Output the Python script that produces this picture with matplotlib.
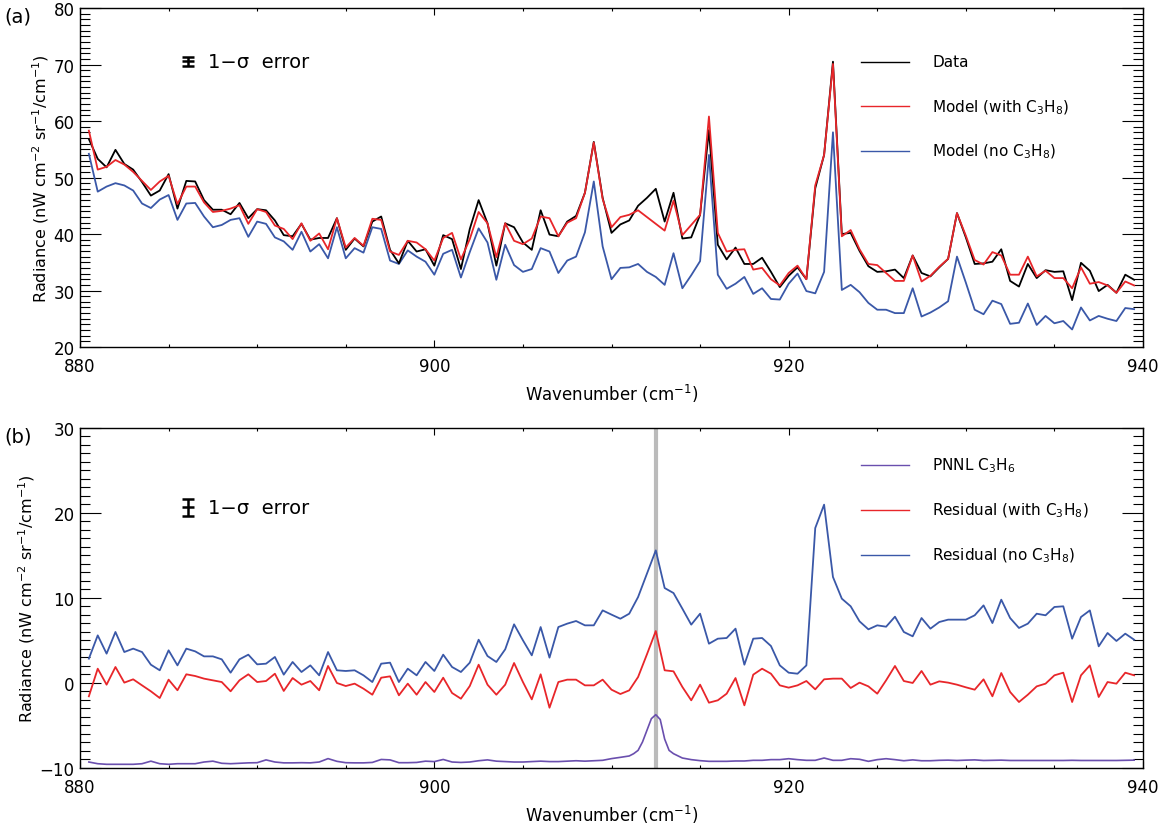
import numpy as np
import matplotlib
matplotlib.use('Agg')
import matplotlib.pyplot as plt
from matplotlib.ticker import MultipleLocator

plt.rcParams['font.family'] = ['DejaVu Sans']
plt.rcParams['mathtext.default'] = 'regular'

# wavenumber grid of the spectra (cm^-1)
wavenumber = np.arange(880.5, 940.0, 0.5)

# panel (a): radiances
data = [56.8, 53.3, 51.8, 54.9, 52.4, 51.4, 49.2, 46.8, 47.7, 50.6,
        44.5, 49.4, 49.3, 46.0, 44.3, 44.3, 43.5, 45.5, 42.8, 44.4,
        44.2, 42.4, 39.8, 39.6, 41.8, 39.0, 39.3, 39.3, 42.8, 37.2,
        39.2, 37.8, 42.2, 43.1, 37.2, 34.8, 38.8, 36.9, 37.3, 34.4,
        39.8, 39.1, 33.8, 40.9, 46.0, 41.9, 34.4, 41.9, 41.2, 38.5,
        37.2, 44.2, 39.9, 39.6, 42.2, 43.2, 47.3, 56.3, 46.4, 40.2,
        41.7, 42.4, 45.0, 46.4, 48.0, 42.2, 47.3, 39.2, 39.4, 43.4,
        58.4, 38.1, 35.5, 37.6, 34.7, 34.7, 35.8, 33.3, 30.6, 32.6,
        34.1, 32.0, 48.1, 54.0, 70.5, 40.0, 40.2, 37.0, 34.3, 33.3,
        33.4, 33.7, 32.2, 36.2, 33.1, 32.5, 34.1, 35.6, 43.7, 39.4,
        34.7, 34.8, 35.1, 37.3, 31.7, 30.7, 34.7, 32.2, 33.6, 33.3,
        33.4, 28.3, 34.9, 33.5, 29.9, 31.0, 29.6, 32.8, 31.9]

model_with = [58.3, 51.4, 51.9, 53.1, 52.3, 51.0, 49.4, 47.8, 49.3, 50.3,
              45.3, 48.4, 48.4, 45.6, 43.9, 44.1, 44.5, 45.1, 41.8, 44.4,
              43.9, 41.5, 40.9, 39.1, 41.9, 38.8, 40.1, 37.3, 42.8, 37.6,
              39.3, 37.9, 42.7, 42.5, 36.9, 36.3, 38.8, 38.5, 37.3, 35.3,
              39.3, 40.2, 35.5, 39.1, 43.9, 41.9, 35.9, 41.9, 38.8, 38.2,
              39.2, 43.1, 42.8, 39.6, 42.0, 42.8, 47.3, 56.2, 46.2, 41.2,
              43.0, 43.4, 44.2, 43.0, 41.8, 40.6, 45.9, 39.8, 41.6, 43.4,
              60.8, 40.2, 36.9, 37.2, 37.3, 33.7, 34.0, 32.0, 30.9, 33.1,
              34.4, 32.0, 48.6, 54.0, 70.1, 39.6, 40.7, 37.3, 34.7, 34.5,
              33.1, 31.7, 31.7, 36.2, 31.6, 32.6, 34.2, 35.6, 43.7, 39.7,
              35.4, 34.6, 36.8, 36.2, 32.8, 32.8, 36.0, 32.5, 33.5, 32.2,
              32.2, 30.4, 34.1, 31.2, 31.5, 30.9, 29.6, 31.6, 30.9]

model_no = [54.2, 47.5, 48.4, 49.0, 48.6, 47.7, 45.4, 44.6, 46.1, 46.9,
            42.5, 45.4, 45.5, 43.1, 41.2, 41.6, 42.5, 42.8, 39.5, 42.2,
            41.8, 39.4, 38.7, 37.2, 40.4, 36.9, 38.2, 35.7, 41.2, 35.7,
            37.5, 36.7, 41.2, 40.9, 35.3, 34.7, 37.1, 36.0, 35.1, 32.8,
            36.5, 37.2, 32.3, 36.8, 41.0, 38.5, 31.9, 38.1, 34.5, 33.3,
            33.8, 37.5, 36.9, 33.1, 35.3, 36.0, 40.3, 49.3, 37.8, 32.0,
            34.0, 34.1, 34.7, 33.3, 32.4, 31.0, 36.6, 30.4, 32.7, 35.2,
            54.0, 32.8, 30.3, 31.2, 32.4, 29.4, 30.4, 28.5, 28.4, 31.2,
            33.0, 29.9, 29.5, 33.3, 58.0, 30.1, 31.0, 29.7, 27.8, 26.6,
            26.6, 26.0, 26.0, 30.4, 25.4, 26.1, 27.0, 28.1, 36.0, 31.4,
            26.6, 25.8, 28.2, 27.6, 24.1, 24.3, 27.7, 23.9, 25.5, 24.2,
            24.6, 23.1, 27.0, 24.7, 25.5, 25.0, 24.6, 26.9, 26.7]

# panel (b): residuals
resid_with = [-1.57, 1.68, -0.20, 1.88, 0.04, 0.43, -0.28, -0.98, -1.77, 0.39,
              -0.86, 1.02, 0.82, 0.51, 0.31, 0.11, -0.98, 0.31, 1.02, 0.11,
              0.23, 1.09, -0.94, 0.58, -0.20, 0.23, -0.86, 2.00, 0.00, -0.36,
              -0.08, -0.67, -1.38, 0.62, 0.78, -1.45, -0.08, -1.38, 0.11, -1.06,
              0.62, -1.18, -1.85, -0.36, 2.15, -0.20, -1.38, -0.20, 2.35, 0.11,
              -1.93, 1.02, -2.91, 0.11, 0.39, 0.39, -0.28, -0.28, 0.39, -0.79,
              -1.30, -0.87, 0.70, 3.37, 6.11, 1.49, 1.37, -0.47, -2.04, -0.20,
              -2.32, -2.04, -1.26, 0.58, -2.63, 0.98, 1.68, 1.09, -0.28, -0.55,
              -0.28, 0.23, -0.75, 0.43, 0.51, 0.51, -0.59, 0.04, -0.40, -1.26,
              0.31, 2.00, 0.23, 0.00, 1.41, -0.20, 0.19, 0.04, -0.20, -0.51,
              -0.79, 0.43, -1.57, 1.17, -1.06, -2.24, -1.38, -0.40, -0.08, 0.90,
              1.21, -2.24, 0.90, 2.07, -1.65, 0.11, -0.08, 1.21, 0.90]

resid_no = [2.86, 5.60, 3.45, 6.00, 3.64, 4.04, 3.64, 2.15, 1.49, 3.84,
            2.07, 4.04, 3.72, 3.13, 3.13, 2.78, 1.21, 2.78, 3.33, 2.19,
            2.27, 3.06, 0.98, 2.47, 1.29, 2.07, 0.90, 3.64, 1.49, 1.41,
            1.49, 0.90, 0.11, 2.27, 2.39, 0.11, 1.68, 0.90, 2.47, 1.41,
            3.33, 1.88, 1.29, 2.39, 5.09, 3.17, 2.47, 3.96, 6.90, 5.02,
            3.25, 6.58, 2.98, 6.58, 6.98, 7.29, 6.78, 6.78, 8.54, 8.04,
            7.56, 8.15, 10.11, 12.86, 15.60, 11.17, 10.58, 8.74, 6.86, 8.15,
            4.62, 5.21, 5.29, 6.39, 2.15, 5.21, 5.29, 4.35, 2.07, 1.21,
            1.09, 2.07, 18.23, 20.98, 12.47, 9.92, 9.02, 7.25, 6.31, 6.78,
            6.62, 7.80, 6.00, 5.49, 7.64, 6.39, 7.17, 7.45, 7.45, 7.45,
            7.96, 9.13, 7.05, 9.80, 7.64, 6.47, 6.98, 8.15, 7.96, 8.94,
            9.02, 5.21, 7.76, 8.54, 4.31, 5.88, 4.94, 5.80, 5.09]

# PNNL C3H6 reference (finer sampling around the 912.5 band)
pnnl_wn = np.concatenate([np.arange(880.5, 911.0, 0.5),
                          np.arange(911.0, 913.75, 0.25),
                          np.arange(914.0, 940.0, 0.5)])
pnnl = [-9.30, -9.50, -9.57, -9.57, -9.57, -9.57, -9.50, -9.20, -9.50, -9.57,
        -9.50, -9.50, -9.50, -9.30, -9.20, -9.45, -9.50, -9.45, -9.40, -9.38,
        -9.05, -9.30, -9.40, -9.40, -9.38, -9.40, -9.30, -8.90, -9.22, -9.38,
        -9.40, -9.40, -9.35, -9.00, -9.05, -9.38, -9.38, -9.35, -9.20, -9.25,
        -9.00, -9.30, -9.35, -9.30, -9.15, -9.05, -9.20, -9.25, -9.30, -9.30,
        -9.25, -9.20, -9.25, -9.25, -9.20, -9.15, -9.20, -9.15, -9.10, -8.90,
        -8.75,
        -8.59, -8.32, -7.93, -6.94, -5.57, -4.20, -3.73, -4.30, -6.60, -7.93, -8.32,
        -8.83, -9.02, -9.14, -9.22, -9.22, -9.22, -9.18, -9.18, -9.10, -9.10,
        -9.02, -9.02, -8.91, -9.02, -9.10, -9.10, -8.83, -9.10, -9.10, -8.91,
        -8.98, -9.22, -9.02, -8.91, -9.02, -9.15, -9.05, -9.15, -9.15, -9.10,
        -9.08, -9.12, -9.08, -9.05, -9.12, -9.10, -9.08, -9.12, -9.12, -9.12,
        -9.12, -9.12, -9.12, -9.12, -9.10, -9.12, -9.12, -9.12, -9.12, -9.12,
        -9.10, -9.08]

band_center = 912.5
sigma_a = 0.8
sigma_b = 1.0

RED = '#e8262a'
BLUE = '#3a58a8'
PURPLE = '#6a4fae'

ylab = r'Radiance (nW cm$^{-2}$ sr$^{-1}$/cm$^{-1}$)'
xlab = r'Wavenumber (cm$^{-1}$)'


def style_axes(ax, ylim, ymajor):
    ax.set_xlim(880, 940)
    ax.set_ylim(*ylim)
    ax.xaxis.set_major_locator(MultipleLocator(20))
    ax.xaxis.set_minor_locator(MultipleLocator(5))
    ax.yaxis.set_major_locator(MultipleLocator(ymajor))
    ax.yaxis.set_minor_locator(MultipleLocator(1))
    ax.tick_params(which='both', direction='in', top=True, right=True,
                   width=0.8, labelsize=12)
    ax.tick_params(axis='x', which='major', length=5, pad=7)
    ax.tick_params(axis='x', which='minor', length=2.5)
    ax.tick_params(axis='y', which='major', length=15, pad=4)
    ax.tick_params(axis='y', which='minor', length=7.5)
    for s in ax.spines.values():
        s.set_linewidth(1.0)
    ax.set_xlabel(xlab, fontsize=12, labelpad=5)
    ax.set_ylabel(ylab, fontsize=11.5, labelpad=2)


def legend_entry(ax, y, color, label):
    ax.plot([924.1, 926.8], [y, y], color=color, lw=1.0)
    ax.text(928.1, y, label, fontsize=11, va='center', ha='left')


def sigma_bar(ax, x, y, sig):
    ax.errorbar([x], [y], yerr=[sig], color='k', lw=1.8, capsize=4,
                capthick=1.8, marker='_', ms=8, mew=1.8)
    ax.text(x + 1.1, y, '1\u2212\u03c3  error', fontsize=14, va='center',
            ha='left')


fig = plt.figure(figsize=(11.63, 8.28), dpi=100)
ax1 = fig.add_axes([0.0688, 0.5797, 0.914, 0.4094])
ax2 = fig.add_axes([0.0688, 0.0713, 0.914, 0.4106])

# (a)
ax1.plot(wavenumber, model_no, color=BLUE, lw=1.3)
ax1.plot(wavenumber, data, color='k', lw=1.3)
ax1.plot(wavenumber, model_with, color=RED, lw=1.3)
style_axes(ax1, (20, 80), 10)
legend_entry(ax1, 70.5, 'k', 'Data')
legend_entry(ax1, 62.6, RED, r'Model (with C$_3$H$_8$)')
legend_entry(ax1, 54.7, BLUE, r'Model (no C$_3$H$_8$)')
sigma_bar(ax1, 886.1, 70.6, sigma_a)

# (b)
ax2.axvline(band_center, color='#bbbbbb', lw=3, zorder=0)
ax2.plot(pnnl_wn, pnnl, color=PURPLE, lw=1.2)
ax2.plot(wavenumber, resid_no, color=BLUE, lw=1.3)
ax2.plot(wavenumber, resid_with, color=RED, lw=1.3)
style_axes(ax2, (-10, 30), 10)
legend_entry(ax2, 25.7, PURPLE, r'PNNL C$_3$H$_6$')
legend_entry(ax2, 20.4, RED, r'Residual (with C$_3$H$_8$)')
legend_entry(ax2, 15.1, BLUE, r'Residual (no C$_3$H$_8$)')
sigma_bar(ax2, 886.1, 20.7, sigma_b)

fig.text(18 / 1163, 1 - 17 / 828, '(a)', fontsize=14, ha='center', va='center')
fig.text(18 / 1163, 1 - 437 / 828, '(b)', fontsize=14, ha='center', va='center')

fig.savefig('out.png', dpi=100)
